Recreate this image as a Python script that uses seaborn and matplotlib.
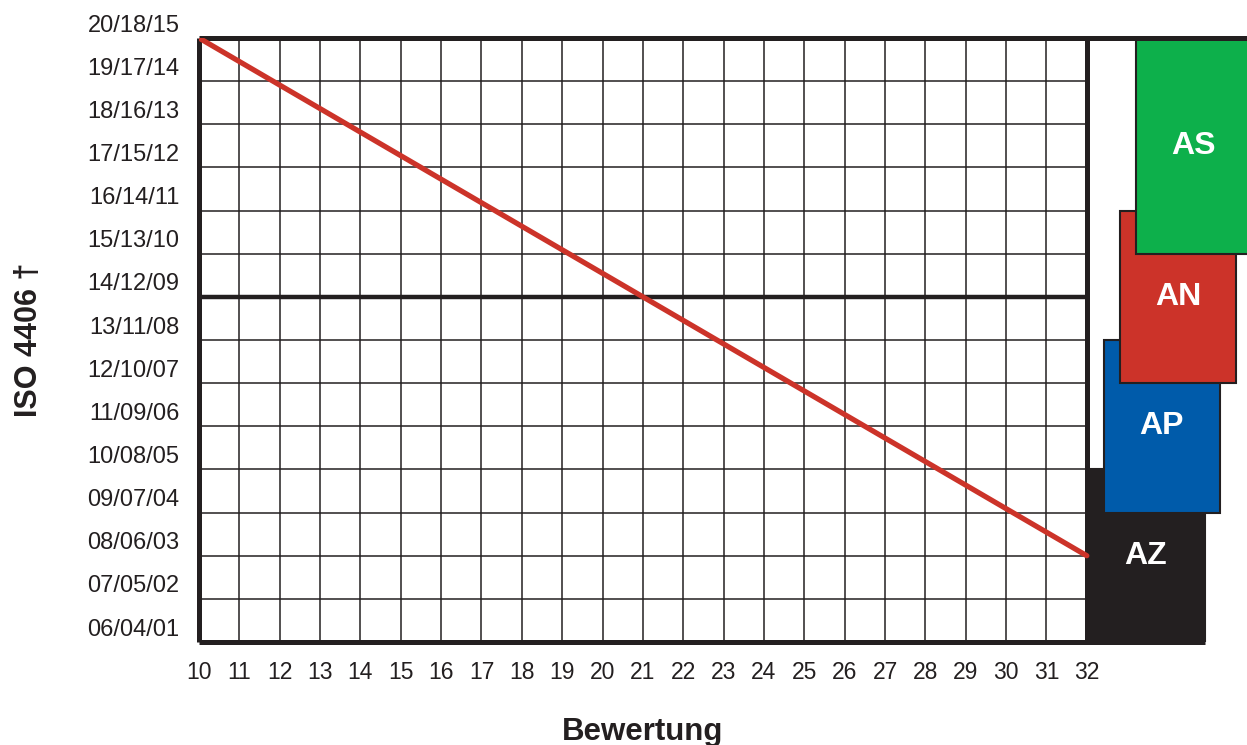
import matplotlib
matplotlib.use("Agg")
import matplotlib.pyplot as plt
import matplotlib.transforms as mtransforms
import pandas as pd
import seaborn as sns

# ---- data ----
x_ratings = list(range(10, 33))
iso_levels = ["06/04/01", "07/05/02", "08/06/03", "09/07/04", "10/08/05",
              "11/09/06", "12/10/07", "13/11/08", "14/12/09", "15/13/10",
              "16/14/11", "17/15/12", "18/16/13", "19/17/14", "20/18/15"]
line_x = [10, 32]
line_level = [14, 2]          # index into iso_levels
thick_level = 8               # 14/12/09
box_names = ["AZ", "AP", "AN", "AS"]
box_left = [32.0, 32.42, 32.82, 33.22]
box_right = [34.93, 35.30, 35.70, 36.05]
box_bottom = [0, 3, 6, 9]
box_top = [4, 7, 10, 14]
box_colors = ["#231F20", "#005BAA", "#CC3329", "#0DB04B"]

sns.set_theme(style="white")
plt.rcParams["font.family"] = ["Liberation Sans", "DejaVu Sans"]

W, H = 1247, 745
fig = plt.figure(figsize=(W / 100, H / 100), dpi=100)
ax = fig.add_axes([199 / W, 1 - 642 / H, 1048 / W, 604 / H])
ax.set_xlim(10, 35.97)
ax.set_ylim(0, len(iso_levels) - 1)
for s in ax.spines.values():
    s.set_visible(False)

ink = "#231F20"
xmin, xmax = min(x_ratings), max(x_ratings)
ymax = len(iso_levels) - 1

# grid
ax.vlines(x_ratings[1:-1], 0, ymax, color=ink, lw=1.1, zorder=1)
ax.hlines(list(range(1, ymax)), xmin, xmax, color=ink, lw=1.1, zorder=1)
ax.hlines([thick_level], xmin, xmax, color=ink, lw=3.2, zorder=2)

# boxes
for n, l, r, b, t, c in zip(box_names, box_left, box_right, box_bottom, box_top, box_colors):
    ax.bar(l, t - b, width=r - l, bottom=b, align="edge", color=c,
           edgecolor=ink, linewidth=1.5, zorder=3)
    ax.text((l + r) / 2, (b + t) / 2, n, color="white", fontsize=23,
            fontweight="bold", ha="center", va="center", zorder=4)

# frame
ax.vlines([xmin], 0, ymax, color=ink, lw=3.6, zorder=5, clip_on=False)
ax.vlines([xmax], 0, ymax, color=ink, lw=3.6, zorder=5, clip_on=False)
ax.hlines([ymax], xmin, 35.97, color=ink, lw=3.6, zorder=5, clip_on=False)
ax.hlines([0], xmin, box_right[0], color=ink, lw=3.6, zorder=5, clip_on=False)

# red line
df = pd.DataFrame({"x": line_x, "y": line_level})
sns.lineplot(data=df, x="x", y="y", ax=ax, color="#CC3329", lw=3.8,
             zorder=6, solid_capstyle="round")

# ticks
ax.set_xticks(x_ratings)
ax.set_xticklabels([str(v) for v in x_ratings], fontsize=16.5, color=ink)
ax.set_yticks(list(range(len(iso_levels))))
ax.set_yticklabels(iso_levels, fontsize=17, color=ink)
ax.tick_params(axis="both", length=0)
ax.tick_params(axis="x", pad=14)
ax.tick_params(axis="y", pad=14)
off = mtransforms.ScaledTranslation(0, 15 / 100, fig.dpi_scale_trans)
for lab in ax.get_yticklabels():
    lab.set_transform(lab.get_transform() + off)

ax.set_xlabel("Bewertung", fontsize=22.5, fontweight="bold", color=ink)
ax.xaxis.set_label_coords((643 - 199) / 1048, -(717 - 642) / 604)
ax.set_ylabel("ISO 4406 †", fontsize=22, fontweight="bold", color=ink)
ax.yaxis.set_label_coords(-(199 - 44) / 1048, 0.5)

fig.savefig("out.png", dpi=100, facecolor="white")
